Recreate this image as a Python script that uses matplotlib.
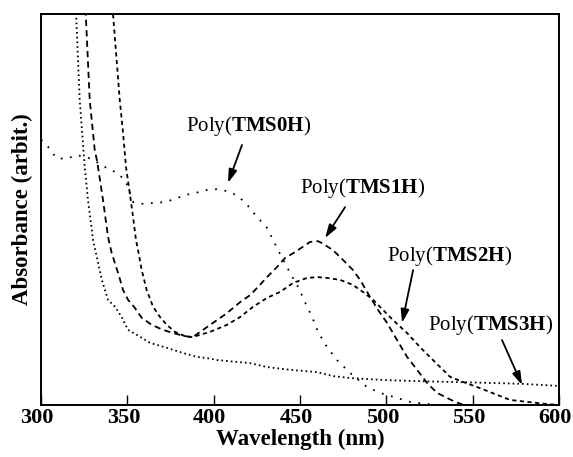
import numpy as np
import matplotlib
matplotlib.use('Agg')
import matplotlib.pyplot as plt
import matplotlib.transforms as mtransforms

# Fonts: Times-like serif, bold parts via mathtext
plt.rcParams['font.family'] = 'Liberation Serif'
plt.rcParams['mathtext.fontset'] = 'custom'
plt.rcParams['mathtext.rm'] = 'Liberation Serif'
plt.rcParams['mathtext.bf'] = 'Liberation Serif:bold'
plt.rcParams['lines.scale_dashes'] = False

# Absorbance spectra (arbitrary units)
wl_0H = [300, 305.2, 308.7, 314.5, 320.3, 326.6, 332.4, 338.8, 344.6, 349.2, 353.3, 359.7,
         365.4, 371.8, 377.6, 383.4, 392.1, 396.1, 401.9, 407.7, 414.1, 419.9, 425.1, 430.9,
         434.4, 437.3, 441.3, 444.2, 448.9, 452.9, 457.0, 460.4, 465.7, 471.4, 479.0, 488.8,
         496.3, 506.2, 513.7, 522.4, 531.0]
abs_0H = [0.678, 0.655, 0.632, 0.629, 0.639, 0.634, 0.621, 0.604, 0.593, 0.570, 0.519, 0.514,
          0.517, 0.519, 0.527, 0.537, 0.545, 0.550, 0.552, 0.547, 0.535, 0.509, 0.481, 0.453,
          0.422, 0.396, 0.363, 0.338, 0.302, 0.263, 0.225, 0.187, 0.148, 0.115, 0.082, 0.046,
          0.031, 0.018, 0.008, 0.003, 0.0]

wl_1H = [325.0, 325.9, 328.2, 331.1, 332.6, 335.9, 338.8, 340.9, 344.6, 347.5, 350.4, 354.4,
         358.3, 364.1, 370.7, 376.5, 383.4, 388.0, 393.8, 399.6, 407.7, 415.3, 421.1, 425.7,
         430.9, 436.7, 441.3, 447.1, 455.8, 460.4, 462.8, 469.1, 474.9, 480.7, 484.8, 490.6,
         495.2, 500.4, 506.2, 512.0, 517.8, 523.6, 529.4, 535.2, 539.8, 545.0]
abs_1H = [1.05, 1.000, 0.780, 0.652, 0.621, 0.524, 0.430, 0.389, 0.338, 0.294, 0.269, 0.248,
          0.223, 0.205, 0.192, 0.184, 0.176, 0.174, 0.192, 0.210, 0.235, 0.263, 0.281, 0.302,
          0.327, 0.353, 0.376, 0.391, 0.417, 0.419, 0.414, 0.396, 0.371, 0.345, 0.320, 0.276,
          0.243, 0.210, 0.166, 0.123, 0.090, 0.056, 0.031, 0.018, 0.008, 0.0]

wl_2H = [341.0, 341.7, 345.6, 347.5, 349.2, 351.4, 353.3, 355.0, 356.2, 358.3, 361.2, 364.9,
         368.9, 372.8, 377.6, 384.4, 388.0, 397.9, 407.7, 415.3, 422.8, 430.9, 438.4, 445.9,
         454.1, 460.4, 465.6, 473.2, 480.7, 486.5, 492.3, 498.1, 503.9, 512.0, 519.5, 527.0,
         536.9, 544.4, 554.3, 564.1, 571.6, 581.5, 591.9, 600.0]
abs_2H = [1.05, 1.000, 0.780, 0.696, 0.609, 0.542, 0.481, 0.422, 0.396, 0.345, 0.294, 0.251,
          0.225, 0.205, 0.187, 0.174, 0.174, 0.187, 0.205, 0.225, 0.251, 0.274, 0.289, 0.312,
          0.325, 0.327, 0.325, 0.320, 0.307, 0.289, 0.269, 0.243, 0.217, 0.184, 0.148, 0.115,
          0.072, 0.059, 0.043, 0.026, 0.013, 0.008, 0.003, 0.0]

wl_3H = [319.4, 320.3, 322.4, 325.3, 327.2, 329.4, 330.1, 332.3, 335.2, 338.8, 342.9, 346.7,
         350.4, 355.6, 363.1, 373.0, 382.2, 390.4, 396.1, 401.9, 421.1, 430.9, 444.2, 459.9,
         469.1, 479.0, 498.1, 517.8, 536.9, 564.1, 579.2, 598.8]
abs_3H = [1.05, 1.000, 0.780, 0.609, 0.524, 0.448, 0.422, 0.379, 0.320, 0.269, 0.251, 0.225,
          0.192, 0.179, 0.159, 0.146, 0.133, 0.123, 0.120, 0.115, 0.107, 0.097, 0.090, 0.084,
          0.074, 0.069, 0.064, 0.061, 0.059, 0.056, 0.054, 0.049]

labels = ['TMS0H', 'TMS1H', 'TMS2H', 'TMS3H']
# text centre, arrow tail, arrow head (data units)
label_pos = [(420.0, 0.714), (486.5, 0.555), (536.6, 0.381), (560.3, 0.205)]
arrow_tail = [(416.4, 0.665), (476.1, 0.506), (515.5, 0.345), (567.0, 0.166)]
arrow_head = [(408.3, 0.568), (464.5, 0.427), (509.1, 0.210), (578.6, 0.051)]

fig = plt.figure(figsize=(5.73, 4.57), dpi=100)
ax = fig.add_axes([0.0716, 0.1138, 0.904, 0.8556])

ax.plot(wl_0H, abs_0H, color='black', lw=1.3, linestyle=(0, (1.3, 5.5)))
ax.plot(wl_1H, abs_1H, color='black', lw=1.3, linestyle=(0, (4.5, 3.0)))
ax.plot(wl_2H, abs_2H, color='black', lw=1.3, linestyle=(0, (3.0, 2.5)))
ax.plot(wl_3H, abs_3H, color='black', lw=1.3, linestyle=(0, (1.2, 2.2)))

for name, pos, tail, head in zip(labels, label_pos, arrow_tail, arrow_head):
    ax.text(pos[0], pos[1], r'Poly($\mathbf{' + name + '}$)', fontsize=15,
            ha='center', va='center')
    ax.annotate('', xy=head, xytext=tail,
                arrowprops=dict(arrowstyle='-|>,head_length=0.8,head_width=0.25',
                                color='black', lw=1.3, shrinkA=0, shrinkB=0))

ax.set_xlim(300, 600)
ax.set_ylim(0, 1)
ax.set_xticks(np.arange(300, 601, 50))
ax.set_yticks([])
ax.tick_params(axis='x', direction='in', length=7, width=1, pad=2, labelsize=16)
# tick labels sit a little left of their ticks in the original
shift = mtransforms.ScaledTranslation(-4 / 100, 0, fig.dpi_scale_trans)
for lab in ax.get_xticklabels():
    lab.set_fontweight('bold')
    lab.set_transform(lab.get_transform() + shift)
for sp in ax.spines.values():
    sp.set_linewidth(1.4)

ax.set_xlabel('Wavelength (nm)', fontsize=16.5, fontweight='bold', labelpad=1)
ax.set_ylabel('Absorbance (arbit.)', fontsize=16.5, fontweight='bold', labelpad=6)

plt.savefig('out.png', dpi=100)
